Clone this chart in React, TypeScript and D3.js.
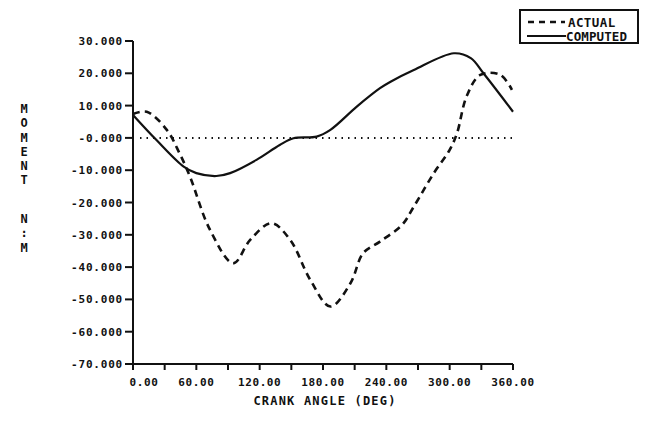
import React from "react";
import * as d3 from "d3";

const actualAngles = [0, 13, 32, 44, 54, 73, 95, 111, 131, 149, 168, 187, 206, 218, 234, 255, 266, 285, 300, 307, 316, 329, 348, 359];
const actualValues = [7.4, 8.1, 2.5, -4.7, -12, -28.5, -38.8, -31.6, -26.4, -31.6, -44, -52.2, -45, -35.7, -32.1, -26.9, -21.3, -10.9, -3.7, 1.5, 12.8, 19.5, 19.5, 14.9];

const computedAngles = [0, 22, 48, 60, 79, 92, 117, 139, 152, 174, 187, 212, 234, 244, 266, 304, 320, 332, 360];
const computedValues = [7.1, -0.6, -8.9, -10.9, -11.8, -10.9, -6.8, -2.2, -0.1, 0.4, 2.5, 9.7, 15.4, 17.4, 21, 26.2, 24.7, 20, 8.1];

const xTicks = [0, 30, 60, 90, 120, 150, 180, 210, 240, 270, 300, 330, 360];
const xTickLabels = ["0.00", "60.00", "120.00", "180.00", "240.00", "300.00", "360.00"];
const yTicks = [30, 20, 10, 0, -10, -20, -30, -40, -50, -60, -70];
const yTickLabels = ["30.000", "20.000", "10.000", "-0.000", "-10.000", "-20.000", "-30.000", "-40.000", "-50.000", "-60.000", "-70.000"];
const yTitle1 = "MOMENT";
const yTitle2 = "N:M";

const FONT = "'DejaVu Sans Mono', monospace";

export default function App() {
  const x = d3.scaleLinear().domain([0, 360]).range([133, 513]);
  const y = d3.scaleLinear().domain([-70, 30]).range([364, 41]);

  const line = d3.line<[number, number]>()
    .x((d) => x(d[0]))
    .y((d) => y(d[1]))
    .curve(d3.curveCatmullRom.alpha(0.5));

  const actualPath = line(actualAngles.map((a, i) => [a, actualValues[i]]) as [number, number][]) || "";
  const computedPath = line(computedAngles.map((a, i) => [a, computedValues[i]]) as [number, number][]) || "";

  const ink = "#111";
  const vStyle: React.CSSProperties = { writingMode: "vertical-rl", textOrientation: "upright" } as React.CSSProperties;

  return (
    <svg width={649} height={429} style={{ position: "absolute", left: 0, top: 0, background: "#fff" }}>
      <rect x={0} y={0} width={649} height={429} fill="#fff" />
      <line x1={140} x2={513} y1={y(0)} y2={y(0)} stroke={ink} strokeWidth={2} strokeDasharray="1.5 5" />
      <line x1={x(0)} x2={x(0)} y1={y(30)} y2={y(-70)} stroke={ink} strokeWidth={2} />
      <line x1={x(0)} x2={x(360)} y1={y(-70)} y2={y(-70)} stroke={ink} strokeWidth={2} />
      {yTicks.map((t) => (
        <line key={"yt" + t} x1={x(0) - 8} x2={x(0)} y1={y(t)} y2={y(t)} stroke={ink} strokeWidth={2} />
      ))}
      {xTicks.map((t) => (
        <line key={"xt" + t} x1={x(t)} x2={x(t)} y1={y(-70)} y2={y(-70) + 6} stroke={ink} strokeWidth={2} />
      ))}
      {yTicks.map((t, i) => (
        <text key={"yl" + t} x={x(0) - 10} y={y(t) + 4} textAnchor="end" fontFamily={FONT} fontWeight="bold" fontSize={11} letterSpacing={0.8} fill={ink}>
          {yTickLabels[i]}
        </text>
      ))}
      {xTickLabels.map((lab, i) => (
        <text key={"xl" + lab} x={x(i * 60) + (i === 0 ? 11 : 0)} y={386} textAnchor="middle" fontFamily={FONT} fontWeight="bold" fontSize={11} letterSpacing={0.6} fill={ink}>
          {lab}
        </text>
      ))}
      <text x={325} y={405} textAnchor="middle" fontFamily={FONT} fontWeight="bold" fontSize={12} letterSpacing={1.2} fill={ink}>
        CRANK ANGLE (DEG)
      </text>
      <text x={24} y={102} fontFamily={FONT} fontWeight="bold" fontSize={12} letterSpacing={0.3} fill={ink} style={vStyle}>
        {yTitle1}
      </text>
      <text x={24} y={212} fontFamily={FONT} fontWeight="bold" fontSize={12} letterSpacing={0.3} fill={ink} style={vStyle}>
        {yTitle2}
      </text>
      <path d={computedPath} fill="none" stroke={ink} strokeWidth={2.2} />
      <path d={actualPath} fill="none" stroke={ink} strokeWidth={2.6} strokeDasharray="7 5" />
      <rect x={520} y={10} width={118} height={33} fill="#fff" stroke={ink} strokeWidth={2} />
      <line x1={528} x2={565} y1={22} y2={22} stroke={ink} strokeWidth={2.4} strokeDasharray="6 5" />
      <line x1={527} x2={566} y1={36} y2={36} stroke={ink} strokeWidth={2} />
      <text x={568} y={26.5} fontFamily={FONT} fontWeight="bold" fontSize={12.5} letterSpacing={0.4} fill={ink}>ACTUAL</text>
      <text x={566} y={40.5} fontFamily={FONT} fontWeight="bold" fontSize={12.5} letterSpacing={0.1} fill={ink}>COMPUTED</text>
    </svg>
  );
}
